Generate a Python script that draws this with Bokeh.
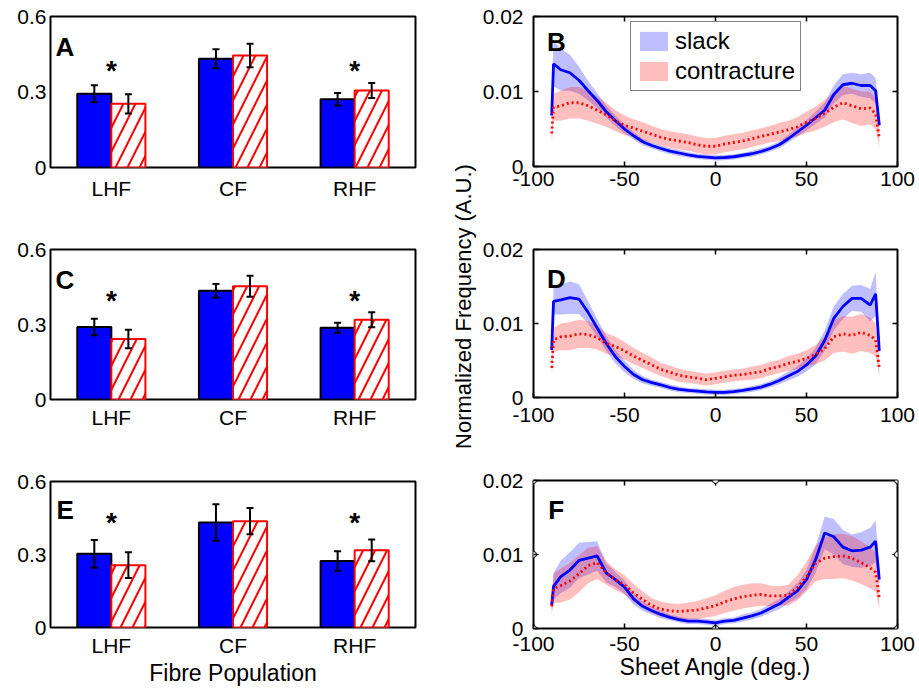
import numpy as np
from bokeh.plotting import figure
from bokeh.layouts import row, column
from bokeh.models import Range1d, Legend, LegendItem, FixedTicker
from bokeh.core.properties import value
from bokeh.embed import file_html
from bokeh.resources import INLINE

FONT = "Liberation Sans"

# ---------------- bar data (fraction of fibres) ----------------
categories = ["LHF", "CF", "RHF"]
A_slack = [0.293, 0.432, 0.271]
A_slack_err = [0.034, 0.038, 0.025]
A_contr = [0.253, 0.445, 0.306]
A_contr_err = [0.038, 0.047, 0.030]
C_slack = [0.290, 0.435, 0.287]
C_slack_err = [0.033, 0.027, 0.020]
C_contr = [0.242, 0.453, 0.319]
C_contr_err = [0.037, 0.042, 0.030]
E_slack = [0.303, 0.432, 0.273]
E_slack_err = [0.057, 0.075, 0.040]
E_contr = [0.256, 0.437, 0.317]
E_contr_err = [0.053, 0.054, 0.045]
star_cats = [1, 3]
star_base = {"A": 0.385, "C": 0.398, "E": 0.433}

# ---------------- sheet angle distributions (x 1e-3) ----------------
angles = [-90, -89, -85, -80, -75, -70, -65, -60, -55, -50, -45, -40, -35, -30,
          -25, -20, -15, -10, -5, 0, 5, 10, 15, 20, 25, 30, 35, 40, 45, 50, 55,
          60, 65, 70, 75, 80, 85, 88, 90]

B_slack = [6.8, 13.7, 12.9, 12.5, 11.5, 10.1, 8.8, 7.3, 6.1, 5.0,
           4.1, 3.3, 2.8, 2.4, 2.05, 1.8, 1.55, 1.35, 1.25, 1.15,
           1.2, 1.3, 1.5, 1.7, 2.0, 2.4, 2.9, 3.7, 4.6, 5.5,
           6.5, 7.5, 9.6, 10.9, 11.1, 10.8, 10.8, 10.1, 5.5]
B_slack_sd = [1.0, 3.0, 2.8, 2.4, 1.8, 1.3, 1.0, 0.8, 0.7, 0.6,
              0.5, 0.45, 0.4, 0.4, 0.4, 0.4, 0.35, 0.35, 0.35, 0.35,
              0.35, 0.35, 0.35, 0.4, 0.4, 0.4, 0.45, 0.5, 0.6, 0.7,
              0.8, 1.0, 1.2, 1.4, 1.4, 1.5, 1.7, 1.7, 0.8]
B_contr = [4.4, 7.9, 8.1, 8.5, 8.5, 8.1, 7.5, 6.9, 6.1, 5.5,
           5.1, 4.7, 4.3, 3.9, 3.6, 3.4, 3.2, 2.9, 2.7, 2.7,
           3.0, 3.2, 3.4, 3.7, 4.0, 4.3, 4.6, 4.9, 5.3, 5.9,
           6.4, 7.1, 7.9, 8.5, 8.1, 7.7, 7.8, 7.0, 3.8]
B_contr_sd = [1.2, 1.8, 2.0, 2.1, 2.1, 2.0, 1.8, 1.6, 1.4, 1.3,
              1.2, 1.2, 1.1, 1.1, 1.1, 1.1, 1.1, 1.1, 1.1, 1.1,
              1.1, 1.1, 1.1, 1.1, 1.1, 1.1, 1.2, 1.2, 1.3, 1.4,
              1.6, 1.8, 2.0, 2.2, 2.3, 2.3, 2.2, 2.0, 1.2]

D_slack = [6.4, 13.0, 13.2, 13.5, 13.3, 11.5, 9.4, 7.3, 5.5, 4.2,
           3.1, 2.4, 2.0, 1.7, 1.35, 1.1, 0.95, 0.85, 0.75, 0.7,
           0.7, 0.8, 0.95, 1.15, 1.4, 1.8, 2.3, 2.9, 3.5, 4.4,
           5.6, 7.7, 10.7, 12.3, 13.4, 13.4, 12.5, 14.0, 6.3]
D_slack_sd = [0.5, 1.8, 2.0, 2.2, 2.0, 1.5, 1.2, 1.0, 0.9, 0.8,
              0.6, 0.5, 0.4, 0.4, 0.4, 0.4, 0.35, 0.35, 0.35, 0.35,
              0.35, 0.35, 0.35, 0.4, 0.4, 0.4, 0.5, 0.6, 0.7, 0.9,
              1.1, 1.4, 1.6, 1.7, 1.7, 1.8, 2.2, 3.0, 0.8]
D_contr = [4.0, 7.8, 8.2, 8.3, 8.6, 8.5, 8.1, 7.3, 6.9, 6.3,
           5.6, 5.0, 4.4, 3.8, 3.4, 3.0, 2.8, 2.6, 2.4, 2.6,
           2.8, 3.0, 3.1, 3.3, 3.5, 3.9, 4.2, 4.6, 4.9, 5.3,
           5.8, 6.6, 8.2, 8.6, 8.4, 8.8, 8.4, 7.8, 4.0]
D_contr_sd = [1.0, 1.6, 1.8, 1.9, 1.9, 1.8, 1.6, 1.4, 1.3, 1.2,
              1.1, 1.0, 1.0, 0.9, 0.9, 0.9, 0.8, 0.8, 0.8, 0.8,
              0.8, 0.8, 0.8, 0.9, 0.9, 0.9, 0.9, 1.0, 1.0, 1.1,
              1.3, 1.6, 2.2, 2.4, 2.5, 2.5, 2.4, 2.2, 1.2]

F_slack = [3.2, 5.7, 7.0, 7.9, 9.2, 9.5, 9.8, 7.5, 6.6, 5.6,
           4.0, 3.0, 2.4, 1.9, 1.5, 1.2, 1.0, 1.0, 0.9, 0.75,
           1.0, 1.1, 1.4, 1.7, 2.1, 2.7, 3.3, 4.2, 5.1, 6.6,
           9.3, 12.9, 12.4, 11.0, 10.5, 10.6, 11.0, 11.8, 6.6]
F_slack_sd = [0.8, 1.8, 2.2, 2.4, 2.4, 2.2, 2.0, 1.3, 1.0, 0.9,
              0.8, 0.6, 0.5, 0.5, 0.4, 0.4, 0.4, 0.4, 0.4, 0.4,
              0.4, 0.4, 0.5, 0.5, 0.5, 0.6, 0.7, 0.8, 1.0, 1.3,
              1.8, 2.2, 2.4, 2.3, 2.2, 2.4, 2.6, 2.8, 1.0]
F_contr = [3.0, 5.4, 5.8, 6.4, 7.4, 8.5, 8.9, 7.5, 6.6, 5.9,
           4.8, 3.9, 3.1, 2.6, 2.4, 2.3, 2.4, 2.5, 2.8, 3.1,
           3.6, 4.0, 4.3, 4.5, 4.6, 4.4, 4.4, 4.5, 5.5, 7.0,
           8.8, 9.5, 9.7, 9.8, 9.5, 8.9, 8.2, 7.6, 4.1]
F_contr_sd = [1.2, 2.0, 2.3, 2.5, 2.5, 2.4, 2.2, 1.6, 1.4, 1.3,
              1.2, 1.1, 1.0, 1.0, 1.0, 1.0, 1.1, 1.2, 1.3, 1.4,
              1.5, 1.6, 1.6, 1.6, 1.5, 1.4, 1.3, 1.4, 1.7, 2.0,
              2.4, 2.8, 3.0, 3.0, 3.0, 2.9, 2.8, 2.6, 1.4]

bar_yticks = [0, 0.3, 0.6]
bar_ytick_labels = ["0", "0.3", "0.6"]
line_xticks = [-100, -50, 0, 50, 100]
line_xtick_labels = ["-100", "-50", "0", "50", "100"]
line_yticks = [0, 0.01, 0.02]
line_ytick_labels = ["0", "0.01", "0.02"]

BLUE = "#0000ff"
RED = "#ff0000"
TICK_FS = "21px"
TITLE_FS = "23px"

LEFT_W = 448
RIGHT_W = 439
LAB_W = 30


def common_style(p):
    p.xgrid.visible = False
    p.ygrid.visible = False
    p.outline_line_color = "black"
    p.outline_line_width = 2
    p.outline_line_alpha = 1
    p.background_fill_color = "white"
    p.border_fill_color = "white"
    for ax in p.axis:
        ax.axis_line_color = None
        ax.minor_tick_line_color = None
        ax.major_label_text_font = FONT
        ax.major_label_text_font_size = TICK_FS
        ax.major_label_text_color = "black"
        ax.axis_label_text_font = FONT
        ax.axis_label_text_font_size = TITLE_FS
        ax.axis_label_text_font_style = "normal"
        ax.axis_label_text_color = "black"


def bar_panel(letter, slack, slack_err, contr, contr_err, height, top, bottom,
              xstd, letter_pos, xlabel=None):
    p = figure(width=LEFT_W, height=height, x_range=Range1d(0.5, 3.5),
               y_range=Range1d(0, 0.6), output_backend="svg",
               toolbar_location=None, min_border_left=50, min_border_right=33,
               min_border_top=top, min_border_bottom=bottom)
    xs = np.arange(1, len(categories) + 1, dtype=float)
    s = np.array(slack)
    c = np.array(contr)
    p.vbar(x=xs - 0.14, top=s, bottom=0, width=0.28, fill_color=BLUE,
           line_color="black", line_width=2)
    p.vbar(x=xs + 0.14, top=c, bottom=0, width=0.28, fill_color="white",
           line_color=RED, line_width=2, hatch_pattern="/", hatch_color=RED,
           hatch_scale=24, hatch_weight=2)
    for off, v, e in ((-0.14, s, np.array(slack_err)), (0.14, c, np.array(contr_err))):
        x = xs + off
        lo, hi = v - e, v + e
        p.segment(x0=x, y0=lo, x1=x, y1=hi, line_color="black", line_width=2)
        p.scatter(x=np.concatenate([x, x]), y=np.concatenate([lo, hi]),
                  marker="dash", size=7, line_color="black", line_width=2)
    sb = star_base[letter]
    p.text(x=star_cats, y=[sb] * len(star_cats), text=["*"] * len(star_cats),
           text_font=value(FONT), text_font_style="bold", text_font_size="28px",
           text_align="center", text_baseline="alphabetic", text_color="black")
    p.text(x=[letter_pos[0]], y=[letter_pos[1]], text=[letter],
           text_font=value(FONT), text_font_style="bold", text_font_size="26px",
           text_align="left", text_baseline="alphabetic", text_color="black")
    p.xaxis.ticker = FixedTicker(ticks=list(xs))
    p.xaxis.major_label_overrides = {float(k): lab for k, lab in zip(xs, categories)}
    p.yaxis.ticker = FixedTicker(ticks=bar_yticks)
    p.yaxis.major_label_overrides = dict(zip(bar_yticks, bar_ytick_labels))
    common_style(p)
    for ax in p.axis:
        ax.major_tick_in = 0
        ax.major_tick_out = 0
    p.xaxis.major_label_standoff = xstd
    p.yaxis.major_label_standoff = 4
    if xlabel:
        p.xaxis.axis_label = xlabel
        p.xaxis.axis_label_standoff = 0
    return p


def line_panel(letter, s_mean, s_sd, c_mean, c_sd, height, top, bottom, xstd,
               letter_pos, legend=False, xlabel=None, handles=False):
    left, right = 55, 20
    p = figure(width=RIGHT_W, height=height, x_range=Range1d(-100, 100),
               y_range=Range1d(0, 0.02), output_backend="svg",
               toolbar_location=None, min_border_left=left, min_border_right=right,
               min_border_top=top, min_border_bottom=bottom)
    frame_w = RIGHT_W - left - right
    frame_h = height - top - bottom
    ang = np.array(angles, dtype=float)
    s = np.array(s_mean) * 1e-3
    sh = np.array(s_sd) * 1e-3
    c = np.array(c_mean) * 1e-3
    ch = np.array(c_sd) * 1e-3
    rb = p.varea(x=ang, y1=s - sh, y2=s + sh, fill_color=BLUE, fill_alpha=0.25)
    rr = p.varea(x=ang, y1=c - ch, y2=c + ch, fill_color=RED, fill_alpha=0.25)
    p.line(ang, s, line_color=BLUE, line_width=2.8)
    p.line(ang, c, line_color=RED, line_width=2.8, line_dash="2 3")
    p.text(x=[letter_pos[0]], y=[letter_pos[1]], text=[letter],
           text_font=value(FONT), text_font_style="bold", text_font_size="26px",
           text_align="left", text_baseline="alphabetic", text_color="black")
    p.xaxis.ticker = FixedTicker(ticks=line_xticks)
    p.xaxis.major_label_overrides = dict(zip(line_xticks, line_xtick_labels))
    p.yaxis.ticker = FixedTicker(ticks=line_yticks)
    p.yaxis.major_label_overrides = dict(zip(line_yticks, line_ytick_labels))
    common_style(p)
    for ax in p.axis:
        ax.major_tick_in = 5
        ax.major_tick_out = 0
        ax.major_tick_line_color = "black"
        ax.major_tick_line_width = 1.5
    # inward ticks on the top and right edges of the box
    xr, yr = p.x_range, p.y_range
    dy = 5 * (yr.end - yr.start) / frame_h
    dx = 5 * (xr.end - xr.start) / frame_w
    tx = line_xticks[1:-1]
    p.segment(x0=tx, y0=[yr.end] * len(tx), x1=tx, y1=[yr.end - dy] * len(tx),
              line_color="black", line_width=1.5)
    ty = line_yticks[1:-1]
    p.segment(x0=[xr.end] * len(ty), y0=ty, x1=[xr.end - dx] * len(ty), y1=ty,
              line_color="black", line_width=1.5)
    p.xaxis.major_label_standoff = xstd
    p.yaxis.major_label_standoff = 10
    if xlabel:
        p.xaxis.axis_label = xlabel
        p.xaxis.axis_label_standoff = 0
    if legend:
        lg = Legend(items=[LegendItem(label="slack", renderers=[rb]),
                           LegendItem(label="contracture", renderers=[rr])],
                    location=(97, 75))
        lg.label_text_font = FONT
        lg.label_text_font_size = "24px"
        lg.label_text_color = "black"
        lg.glyph_width = 35
        lg.glyph_height = 24
        lg.label_standoff = 4
        lg.padding = 5
        lg.spacing = 2
        lg.margin = 0
        lg.border_line_color = "black"
        lg.border_line_width = 1.5
        lg.background_fill_color = "white"
        lg.background_fill_alpha = 1
        p.add_layout(lg)
    if handles:
        xm, ym = (xr.start + xr.end) / 2, (yr.start + yr.end) / 2
        hx = [xr.start, xm, xr.end, xr.start, xr.end, xr.start, xm, xr.end]
        hy = [yr.start, yr.start, yr.start, ym, ym, yr.end, yr.end, yr.end]
        p.scatter(x=hx, y=hy, marker="circle", size=6, fill_color="white",
                  line_color="black", line_width=1)
    return p


pA = bar_panel("A", A_slack, A_slack_err, A_contr, A_contr_err, 238, 16, 71, 9, (0.541, 0.478))
pC = bar_panel("C", C_slack, C_slack_err, C_contr, C_contr_err, 232, 11, 71, 6, (0.541, 0.479))
pE = bar_panel("E", E_slack, E_slack_err, E_contr, E_contr_err, 218, 11, 60, 6, (0.549, 0.482),
               xlabel="Fibre Population")

pB = line_panel("B", B_slack, B_slack_sd, B_contr, B_contr_sd, 238, 16, 72, 5, (-92.6, 0.01657),
                legend=True)
pD = line_panel("D", D_slack, D_slack_sd, D_contr, D_contr_sd, 232, 11, 73, 10, (-92.6, 0.01604))
pF = line_panel("F", F_slack, F_slack_sd, F_contr, F_contr_sd, 218, 10, 60, 8, (-91.9, 0.01597),
                xlabel="Sheet Angle (deg.)", handles=True)

# shared y-axis title for the right column
TOTAL_H = 238 + 232 + 218
lab = figure(width=LAB_W, height=TOTAL_H, x_range=Range1d(0, 1), y_range=Range1d(0, TOTAL_H),
             output_backend="svg", toolbar_location=None, min_border=0,
             x_axis_location=None, y_axis_location=None)
lab.grid.visible = False
lab.outline_line_color = None
lab.text(x=[0.5], y=[TOTAL_H - 306], text=["Normalized Frequency (A.U.)"], angle=np.pi / 2,
         text_font=value(FONT), text_font_size="22px", text_align="center",
         text_baseline="middle", text_color="black")

layout = row(column(pA, pC, pE), lab, column(pB, pD, pF))

open("out.html", "w").write(file_html(layout, INLINE))
